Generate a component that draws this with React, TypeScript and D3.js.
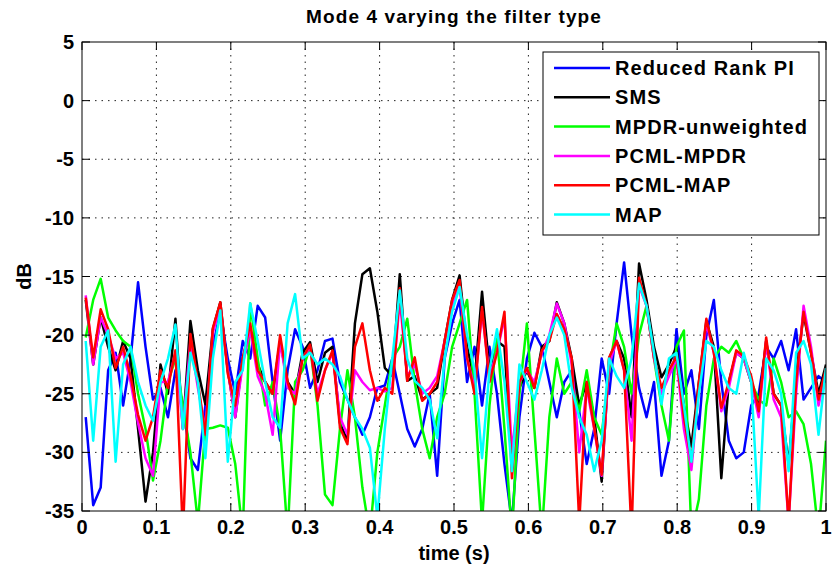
import React from "react";
import * as d3 from "d3";

// ---------- data ----------
const seriesNames = ["Reduced Rank PI", "SMS", "MPDR-unweighted", "PCML-MPDR", "PCML-MAP", "MAP"];
const seriesColors = ["#0000ff", "#000000", "#00ff00", "#ff00ff", "#ff0000", "#00ffff"];

const xTicks = [0, 0.1, 0.2, 0.3, 0.4, 0.5, 0.6, 0.7, 0.8, 0.9, 1];
const xTickLabels = ["0", "0.1", "0.2", "0.3", "0.4", "0.5", "0.6", "0.7", "0.8", "0.9", "1"];
const yTicks = [5, 0, -5, -10, -15, -20, -25, -30, -35];
const yTickLabels = ["5", "0", "-5", "-10", "-15", "-20", "-25", "-30", "-35"];

// sampling instants (s)
const time = d3.range(100).map((i) => 0.005 + (i * 0.995) / 99);

const reducedRankPI = [
  -27, -34.5, -33, -23, -21.5, -26, -22, -15.5, -21, -25.5,
  -24.5, -27, -23, -26, -30.5, -31.5, -26, -21, -18, -22,
  -25, -20.5, -22, -17.5, -18.5, -24, -29, -23, -19.5, -21,
  -24.5, -23, -20.5, -20.3, -24, -25.5, -27, -28.5, -27, -24.5,
  -24.3, -22, -25, -28, -29.5, -28, -25, -32, -22, -19,
  -17, -24, -21, -26, -21, -25, -31, -36, -27, -22,
  -19.8, -21, -24, -27, -24, -23, -26.5, -31, -28, -22,
  -25, -19, -13.8, -20, -24.5, -27, -24, -32, -29, -19.5,
  -25, -23, -28, -20, -17, -24, -29, -30.5, -30, -26,
  -25, -21, -22, -20.5, -23, -19.5, -25.5, -24.5, -23.5, -24,
];

const sms = [
  -17, -22.5, -18.5, -21, -23, -20.5, -22, -28, -34.2, -30,
  -22.5, -25, -18.6, -28, -18.8, -23, -25.9, -19.5, -17.2, -23,
  -27, -22, -19.5, -22.5, -24, -25, -20.5, -24, -25, -21.5,
  -20.6, -24, -21.5, -21, -27.5, -29, -19, -14.8, -14.3, -18,
  -22.8, -23.5, -14.8, -23.9, -23.5, -25.5, -25, -24.5, -20.5, -17,
  -14.9, -21, -24, -16.3, -23, -20.5, -21, -31, -24.5, -23,
  -24.5, -21, -20.5, -17.2, -19, -22, -26, -24, -27, -32.5,
  -22, -20.5, -22, -27, -13.9, -17, -21, -23.6, -22.5, -21,
  -26, -29.5, -24, -18.8, -21, -32.2, -24, -21.5, -22, -24,
  -26, -20.5, -25, -26, -31, -23.5, -18.2, -21.5, -25, -22.5,
];

const mpdrUnweighted = [
  -20.2, -17, -15.2, -18.5, -19.6, -20.5, -21, -25, -28, -32.4,
  -29, -24, -22, -26, -30, -36, -28, -27.9, -27.7, -27.9,
  -31, -37, -17.3, -22, -26, -24, -28, -37, -24, -23,
  -21, -26, -33.6, -34.5, -28, -23, -27, -33, -37, -30,
  -26, -22, -21, -18.6, -24, -28, -30.5, -27, -25, -21,
  -19, -17, -25, -36, -26, -20, -28, -37, -25, -19,
  -28, -37, -27, -22, -25, -24, -26.5, -23, -27, -28.5,
  -23, -19, -21, -25, -20, -17.5, -22, -26, -29, -21,
  -19.6, -37, -34, -26, -22, -21, -21.5, -20.5, -22, -24,
  -25.5, -26, -22, -24, -27, -26.5, -27.6, -31, -37, -29,
];

const pcmlMpdr = [
  -16.6, -22.5, -18.5, -20, -22, -21.5, -24, -27.5, -30.5, -32,
  -24, -24, -21.5, -28, -20.5, -24.5, -28, -19.8, -17.5, -23,
  -27, -22.5, -19.5, -23.5, -25, -28.5, -20.5, -24.5, -25, -22,
  -21, -25, -23, -21.5, -27, -28.5, -23, -24, -24.7, -24.5,
  -24.8, -24.5, -17, -23.5, -22.5, -25, -24.5, -23.5, -20.5, -17.5,
  -15.8, -22, -24.5, -18, -23.5, -21.5, -18.5, -30, -24, -23,
  -24, -21.5, -20, -17.3, -19, -22.5, -30, -24.5, -28, -32,
  -22.5, -20.5, -23, -29, -15.8, -17.5, -22, -25, -23.5, -22,
  -28, -31.5, -24.5, -19, -21.5, -26.5, -24.5, -21.5, -22, -24,
  -27, -20.5, -25.5, -27, -36, -25, -17.5, -21, -26, -23,
];

const pcmlMap = [
  -16.8, -21.9, -17.8, -19.5, -22.8, -21, -23.5, -26.8, -29, -27,
  -23, -24.5, -21.3, -37, -19.9, -24, -28.5, -19.4, -17.2, -23.3,
  -26, -22, -19, -23, -24, -25, -20, -24, -25.9, -22,
  -20.8, -25.6, -23, -21.3, -27.9, -29.3, -21, -19, -23, -25.6,
  -24.5, -25, -16, -23.9, -21.9, -25.6, -25, -24, -20.5, -17,
  -15.3, -21.9, -25, -17.6, -24, -21.5, -18, -32.2, -24, -22.8,
  -24.5, -21.3, -20.5, -18.2, -19.5, -22, -36, -24, -27.9, -31.9,
  -21.9, -20.5, -23, -37, -15.1, -17.5, -21.9, -24.5, -23, -21.8,
  -27, -30.8, -24, -18.6, -21.5, -26.2, -24, -21.3, -21.8, -23.5,
  -26.5, -20.2, -25, -26, -36, -24, -18, -21.5, -25.5, -22.8,
];

const mapSeries = [
  -20.5, -29, -21, -19.6, -30.8, -22.5, -21, -24, -26, -27.3,
  -24, -22, -19.1, -28, -21.5, -24, -30.5, -22, -17.9, -30.8,
  -24, -23, -17.3, -20.5, -24, -27, -27.9, -19, -16.5, -22,
  -21.5, -22.5, -22, -22.5, -23.5, -25.5, -27, -28, -29.6, -35.5,
  -28, -22, -16.2, -22, -23.9, -24.5, -25.5, -28.8, -22, -18,
  -15.9, -20, -23, -30.5, -23, -19.5, -24, -31.6, -22.5, -24,
  -25.5, -23, -20, -18.5, -20, -24.5, -27, -28.5, -31.6, -29,
  -22, -23.5, -24.5, -22, -15.6, -17.5, -21.5, -25.9, -22, -21.5,
  -26, -30.8, -25, -20.5, -21, -23, -24.5, -25, -21.5, -24,
  -35.5, -22, -23, -25, -31.6, -21.5, -20.5, -22.5, -28.5, -22.8,
];

const seriesValues = [reducedRankPI, sms, mpdrUnweighted, pcmlMpdr, pcmlMap, mapSeries];

// ---------- layout ----------
const W = 833;
const H = 569;
const left = 82;
const right = 826;
const top = 42;
const bottom = 511;
const FONT = "'Liberation Sans', Arial, Helvetica, sans-serif";

export default function App() {
  const x = d3.scaleLinear().domain([0, 1]).range([left, right]);
  const y = d3.scaleLinear().domain([-35, 5]).range([bottom, top]);
  const line = d3
    .line<number>()
    .x((_, i) => x(time[i]))
    .y((d) => y(d));

  const tickLen = 8;

  return (
    <svg
      width={W}
      height={H}
      style={{ position: "absolute", left: 0, top: 0, background: "#fff" }}
      fontFamily={FONT}
    >
      <defs>
        <clipPath id="plotClip">
          <rect x={left} y={top} width={right - left} height={bottom - top} />
        </clipPath>
      </defs>
      <rect x={0} y={0} width={W} height={H} fill="#fff" />

      {/* grid */}
      <g stroke="#222" strokeWidth={1} strokeDasharray="1.5,5">
        {xTicks.slice(1, -1).map((t) => (
          <line key={"gx" + t} x1={x(t)} x2={x(t)} y1={top} y2={bottom} />
        ))}
        {yTicks.slice(1, -1).map((t) => (
          <line key={"gy" + t} x1={left} x2={right} y1={y(t)} y2={y(t)} />
        ))}
      </g>

      {/* data */}
      <g clipPath="url(#plotClip)" fill="none" strokeWidth={2.5} strokeLinejoin="round">
        {seriesValues.map((vals, k) => (
          <path key={seriesNames[k]} d={line(vals) || ""} stroke={seriesColors[k]} />
        ))}
      </g>

      {/* axes box and ticks */}
      <g stroke="#000" strokeWidth={1}>
        <rect x={left} y={top} width={right - left} height={bottom - top} fill="none" />
        {xTicks.map((t) => (
          <g key={"tx" + t}>
            <line x1={x(t)} x2={x(t)} y1={bottom} y2={bottom - tickLen} />
            <line x1={x(t)} x2={x(t)} y1={top} y2={top + tickLen} />
          </g>
        ))}
        {yTicks.map((t) => (
          <g key={"ty" + t}>
            <line x1={left} x2={left + tickLen} y1={y(t)} y2={y(t)} />
            <line x1={right} x2={right - tickLen} y1={y(t)} y2={y(t)} />
          </g>
        ))}
      </g>

      {/* tick labels */}
      <g fontSize={20} fontWeight="bold" fill="#000">
        {xTicks.map((t, i) => (
          <text key={"lx" + t} x={x(t)} y={534} textAnchor="middle">
            {xTickLabels[i]}
          </text>
        ))}
        {yTicks.map((t, i) => (
          <text key={"ly" + t} x={74} y={y(t) + 7} textAnchor="end">
            {yTickLabels[i]}
          </text>
        ))}
      </g>

      {/* axis labels & title */}
      <text x={(left + right) / 2} y={560} textAnchor="middle" fontSize={20} fontWeight="bold">
        time (s)
      </text>
      <text
        transform={`translate(31,${(top + bottom) / 2 + 0}) rotate(-90)`}
        textAnchor="middle"
        fontSize={20}
        fontWeight="bold"
      >
        dB
      </text>
      <text
        x={(left + right) / 2}
        y={23}
        textAnchor="middle"
        fontSize={19}
        fontWeight="bold"
        letterSpacing={1.1}
      >
        Mode 4 varying the filter type
      </text>

      {/* legend */}
      <g>
        <rect x={543} y={52} width={276} height={183} fill="#fff" stroke="#000" strokeWidth={1} />
        {seriesNames.map((name, k) => {
          const ry = 68 + k * 29.3;
          return (
            <g key={"lg" + name}>
              <line x1={554} x2={610} y1={ry} y2={ry} stroke={seriesColors[k]} strokeWidth={2.5} />
              <text x={615} y={ry + 7} fontSize={20} fontWeight="bold" letterSpacing={1.1}>
                {name}
              </text>
            </g>
          );
        })}
      </g>
    </svg>
  );
}
